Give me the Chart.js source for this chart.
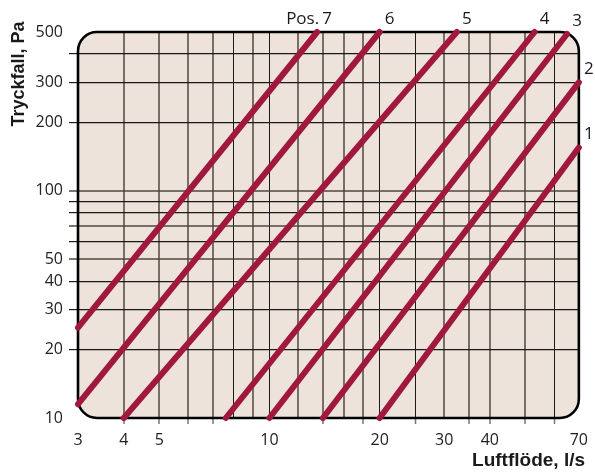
<!DOCTYPE html>
<html>
<head>
<meta charset="utf-8">
<script src="https://cdn.jsdelivr.net/npm/chart.js@4"></script>
<style>
  html, body { margin: 0; padding: 0; background: #ffffff; }
  canvas { display: block; }
</style>
</head>
<body>
<canvas id="c" width="595" height="475"></canvas>
<script>
// ---- Data ----
const positions  = ['1', '2', '3', '4', '5', '6', '7'];
const flowStart  = [20, 14, 10, 7.6, 4, 3, 3];          // l/s
const dropStart  = [10, 10, 10, 10, 10, 11.5, 25];      // Pa
const flowEnd    = [70, 70, 65, 53, 32.5, 20, 13.5];    // l/s
const dropEnd    = [155, 300, 490, 500, 500, 500, 500]; // Pa

const xGridValues = [3, 4, 5, 6, 7, 8, 9, 10, 12, 14, 16, 18, 20, 25, 30, 35, 40, 50, 60, 70];
const xTickLabels = [3, 4, 5, 10, 20, 30, 40, 70];
const yGridValues = [10, 20, 30, 40, 50, 60, 70, 80, 90, 100, 200, 300, 400, 500];
const yTickLabels = [10, 20, 30, 40, 50, 100, 200, 300, 500];

const xTitle = 'Luftflöde, l/s';
const yTitle = 'Tryckfall, Pa';
const posPrefix = 'Pos.';

// ---- Styling ----
const LINE_COLOR = '#a1183f';
const PLOT_BG = '#ede3da';
const GRID_DARK = '#1a1a1a';
const GRID_GREY = 'rgba(75,65,55,0.72)';
const xDarkLines = [8, 10, 20, 25, 60];
const xTickMarks = [4, 5, 6, 7, 14, 18, 25, 35, 40, 50, 60];
const yGreyLines = [50, 70, 100];
const TICK_FONT = { family: '"Open Sans", "Noto Sans", sans-serif', size: 16 };

const datasets = positions.map((p, i) => ({
  label: 'Pos. ' + p,
  data: [{ x: flowStart[i], y: dropStart[i] }, { x: flowEnd[i], y: dropEnd[i] }],
  borderColor: LINE_COLOR,
  borderWidth: 6,
  borderCapStyle: 'round',
  pointRadius: 0,
  tension: 0,
  clip: false,
  fill: false
}));

function roundRectPath(ctx, x, y, w, h, r) {
  ctx.beginPath();
  ctx.moveTo(x + r, y);
  ctx.lineTo(x + w - r, y);
  ctx.arcTo(x + w, y, x + w, y + r, r);
  ctx.lineTo(x + w, y + h - r);
  ctx.arcTo(x + w, y + h, x + w - r, y + h, r);
  ctx.lineTo(x + r, y + h);
  ctx.arcTo(x, y + h, x, y + h - r, r);
  ctx.lineTo(x, y + r);
  ctx.arcTo(x, y, x + r, y, r);
  ctx.closePath();
}

const panelPlugin = {
  id: 'panel',
  beforeDraw(chart) {
    const { ctx, chartArea: a } = chart;
    ctx.save();
    roundRectPath(ctx, a.left, a.top, a.right - a.left, a.bottom - a.top, 19);
    ctx.fillStyle = PLOT_BG;
    ctx.fill();
    ctx.restore();
  },
  beforeDatasetsDraw(chart) {
    const { ctx, chartArea: a } = chart;
    ctx.save();
    roundRectPath(ctx, a.left, a.top, a.right - a.left, a.bottom - a.top, 19);
    ctx.lineWidth = 2.6;
    ctx.strokeStyle = '#000';
    ctx.stroke();
    ctx.restore();
  },
  afterDraw(chart) {
    const { ctx } = chart;
    const xs = chart.scales.x, ys = chart.scales.y;
    ctx.save();
    // axis titles
    ctx.fillStyle = '#1a1a1a';
    ctx.font = 'bold 18px "Liberation Sans", Arial, sans-serif';
    ctx.textAlign = 'center';
    ctx.textBaseline = 'middle';
    ctx.save();
    ctx.translate(19, 74);
    ctx.rotate(-Math.PI / 2);
    ctx.fillText(yTitle, 0, 0);
    ctx.restore();
    ctx.font = 'bold 19px "Liberation Sans", Arial, sans-serif';
    ctx.textAlign = 'right';
    ctx.textBaseline = 'alphabetic';
    ctx.fillText(xTitle, 585, 466);
    // position labels at the end of each line
    ctx.font = '17px "Open Sans", "Noto Sans", sans-serif';
    ctx.textBaseline = 'middle';
    positions.forEach((p, i) => {
      const px = xs.getPixelForValue(flowEnd[i]) + 10;
      const py = ys.getPixelForValue(dropEnd[i]) - 13;
      ctx.textAlign = 'center';
      ctx.fillText(p, px, py);
      if (i === positions.length - 1) {
        ctx.textAlign = 'right';
        ctx.fillText(posPrefix, px - 8, py);
      }
    });
    ctx.restore();
  }
};

new Chart(document.getElementById('c'), {
  type: 'line',
  data: { datasets },
  plugins: [panelPlugin],
  options: {
    responsive: false,
    animation: false,
    devicePixelRatio: 1,
    layout: { padding: { top: 32, right: 12, left: 0, bottom: 0 } },
    plugins: { legend: { display: false }, tooltip: { enabled: false } },
    scales: {
      x: {
        type: 'logarithmic',
        min: 3,
        max: 70,
        afterBuildTicks: s => { s.ticks = xGridValues.map(v => ({ value: v })); },
        afterFit: s => { s.height = 57; },
        border: { display: false },
        grid: {
          drawOnChartArea: true,
          tickLength: 6,
          color: c => {
            const v = c.tick && c.tick.value;
            if (v === 3 || v === 70) return 'rgba(0,0,0,0)';
            return xDarkLines.includes(v) ? GRID_DARK : GRID_GREY;
          },
          lineWidth: c => {
            const v = c.tick && c.tick.value;
            return xDarkLines.includes(v) ? 1 : 2;
          },
          tickColor: c => {
            const v = c.tick && c.tick.value;
            return xTickMarks.includes(v) ? GRID_GREY : 'rgba(0,0,0,0)';
          },
          tickWidth: 1.5
        },
        ticks: {
          autoSkip: false,
          maxRotation: 0,
          padding: 7,
          color: '#222',
          font: TICK_FONT,
          callback: v => xTickLabels.includes(v) ? String(v) : ''
        }
      },
      y: {
        type: 'logarithmic',
        min: 10,
        max: 500,
        afterBuildTicks: s => { s.ticks = yGridValues.map(v => ({ value: v })); },
        afterFit: s => { s.width = 78; },
        border: { display: false },
        grid: {
          tickLength: 9,
          color: c => {
            const v = c.tick && c.tick.value;
            if (v === 10 || v === 500) return 'rgba(0,0,0,0)';
            return yGreyLines.includes(v) ? GRID_GREY : GRID_DARK;
          },
          lineWidth: c => {
            const v = c.tick && c.tick.value;
            return yGreyLines.includes(v) ? 2 : 1.2;
          },
          tickColor: c => {
            const v = c.tick && c.tick.value;
            if (v === 10 || v === 500) return 'rgba(0,0,0,0)';
            return yGreyLines.includes(v) ? GRID_GREY : GRID_DARK;
          },
          tickWidth: c => {
            const v = c.tick && c.tick.value;
            return yGreyLines.includes(v) ? 2 : 1.2;
          }
        },
        ticks: {
          autoSkip: false,
          padding: 6,
          color: '#222',
          font: TICK_FONT,
          callback: v => yTickLabels.includes(v) ? String(v) : ''
        }
      }
    }
  }
});
</script>
</body>
</html>
